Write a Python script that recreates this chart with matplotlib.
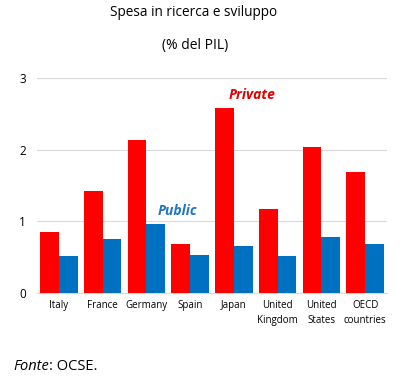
import matplotlib.pyplot as plt
import numpy as np

plt.rcParams['font.family'] = ['Open Sans', 'DejaVu Sans']

countries = ['Italy', 'France', 'Germany', 'Spain', 'Japan',
             'United\nKingdom', 'United\nStates', 'OECD\ncountries']
private = [0.85, 1.43, 2.14, 0.69, 2.58, 1.17, 2.04, 1.69]
public = [0.52, 0.75, 0.96, 0.53, 0.66, 0.52, 0.78, 0.69]

fig = plt.figure(figsize=(4.19, 3.83), dpi=100)
ax = fig.add_axes([37 / 419, 90 / 383, 350 / 419, 215 / 383])

x = np.arange(len(countries))
w = 0.43
ax.bar(x - w / 2, private, w, color='#ff0000', zorder=3)
ax.bar(x + w / 2, public, w, color='#0070c0', zorder=3)

ax.set_xlim(-0.5, len(countries) - 0.5)
ax.set_ylim(0, 3)
ax.set_yticks([0, 1, 2, 3])
ax.set_xticks(x)
ax.set_xticklabels(countries, fontsize=7, linespacing=1.45)
ax.tick_params(axis='y', labelsize=8.5, length=0, pad=8)
ax.tick_params(axis='x', length=0, pad=5)
ax.grid(axis='y', color='#d9d9d9', linewidth=0.8, zorder=0)
for s in ['top', 'right', 'left']:
    ax.spines[s].set_visible(False)
ax.spines['bottom'].set_color('#d9d9d9')

ax.text(3.88, 2.76, 'Private', color='#e00000', fontsize=10,
        fontweight='bold', fontstyle='italic', va='center')
ax.text(2.26, 1.15, 'Public', color='#1f77c0', fontsize=10,
        fontweight='bold', fontstyle='italic', va='center')

fig.text(194 / 419, 1 - 13 / 383, 'Spesa in ricerca e sviluppo',
         ha='center', va='center', fontsize=9.8)
fig.text(195 / 419, 1 - 46 / 383, '(% del PIL)',
         ha='center', va='center', fontsize=10)
t1 = fig.text(13 / 419, 1 - 367 / 383, 'Fonte', fontstyle='italic',
              ha='left', va='center', fontsize=10.5)
ax.annotate(': OCSE.', xy=(1, 0.5), xycoords=t1, ha='left', va='center',
            fontsize=10.5, annotation_clip=False)

fig.savefig('out.png', dpi=100)
